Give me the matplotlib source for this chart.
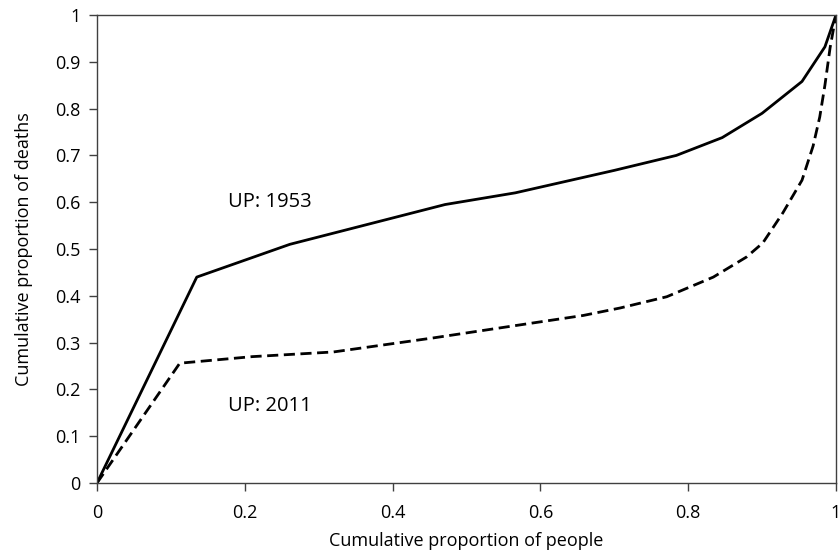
import matplotlib
matplotlib.use("Agg")
from matplotlib import pyplot as plt
import numpy as np

# cumulative proportion of people (x) vs deaths (y)
x_1953 = [0, 0.135, 0.261, 0.471, 0.566, 0.70, 0.784, 0.846, 0.90, 0.954, 0.985, 1.0]
y_1953 = [0, 0.440, 0.510, 0.595, 0.620, 0.668, 0.700, 0.738, 0.790, 0.858, 0.932, 1.0]

x_2011 = [0, 0.112, 0.21, 0.32, 0.455, 0.59, 0.658, 0.708, 0.771, 0.834, 0.879,
          0.901, 0.928, 0.954, 0.969, 0.978, 0.985, 0.992, 1.0]
y_2011 = [0, 0.256, 0.270, 0.280, 0.310, 0.342, 0.358, 0.374, 0.398, 0.440, 0.483,
          0.513, 0.577, 0.647, 0.720, 0.782, 0.850, 0.930, 1.0]

x_ticks = [0, 0.2, 0.4, 0.6, 0.8, 1]
y_ticks = [0, 0.1, 0.2, 0.3, 0.4, 0.5, 0.6, 0.7, 0.8, 0.9, 1]

plt.rcParams['font.family'] = ['Open Sans', 'DejaVu Sans']

fig = plt.figure(figsize=(8.39, 5.54), dpi=100)
ax = fig.add_axes([97/839, 71/554, 739/839, 468/554])

ax.plot(x_1953, y_1953, color='black', lw=2.0, solid_joinstyle='round')
ax.plot(x_2011, y_2011, color='black', lw=2.0, dashes=(4, 2))

ax.text(0.177, 0.60, "UP: 1953", fontsize=14.5, va='center', ha='left')
ax.text(0.177, 0.165, "UP: 2011", fontsize=14.5, va='center', ha='left')

ax.set_xlim(0, 1)
ax.set_ylim(0, 1)
ax.set_xticks(x_ticks)
ax.set_yticks(y_ticks)
ax.set_xticklabels(["%g" % t for t in x_ticks])
ax.set_yticklabels(["%g" % t for t in y_ticks])
ax.tick_params(direction='out', length=6, width=1, color='#404040', labelsize=13, pad=6)
ax.tick_params(axis='x', pad=9)
for s in ax.spines.values():
    s.set_color('#404040')
    s.set_linewidth(1.0)

ax.set_xlabel("Cumulative proportion of people", fontsize=13, labelpad=7)
ax.set_ylabel("Cumulative proportion of deaths", fontsize=13, labelpad=16)

fig.savefig("out.png", dpi=100)
